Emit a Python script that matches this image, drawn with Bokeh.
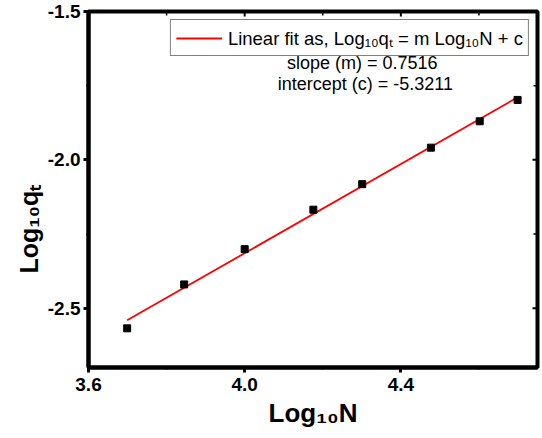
import math
from bokeh.plotting import figure
from bokeh.models import FixedTicker, Label, Legend, LegendItem, Range1d, PrintfTickFormatter, Title
from bokeh.embed import file_html
from bokeh.resources import INLINE

# data
log_n = [3.699, 3.845, 4.000, 4.176, 4.301, 4.477, 4.602, 4.699]
log_qt = [-2.568, -2.420, -2.301, -2.168, -2.082, -1.959, -1.870, -1.798]
slope = 0.7516
intercept = -5.3211
x_ticks = [3.6, 4.0, 4.4]
x_minor = [3.8, 4.2, 4.6]
y_ticks = [-2.5, -2.0, -1.5]
y_minor = [-2.25, -1.75]
x_lim = (3.6, 4.75)
y_lim = (-2.7, -1.5)
x_title = "Log₁₀N"
y_title = "Log₁₀qₜ"

FONT = "Liberation Sans"

p = figure(width=542, height=438, output_backend="svg", toolbar_location=None,
           x_range=Range1d(*x_lim), y_range=Range1d(*y_lim),
           min_border_left=88, min_border_right=5, min_border_top=11, min_border_bottom=71)
p.grid.visible = False
p.background_fill_color = "white"
p.border_fill_color = "white"
p.outline_line_color = "black"
p.outline_line_width = 4
p.outline_line_alpha = 1

xt = FixedTicker(ticks=x_ticks, minor_ticks=x_minor)
yt = FixedTicker(ticks=y_ticks, minor_ticks=y_minor)

for ax, tk in ((p.xaxis[0], xt), (p.yaxis[0], yt)):
    ax.ticker = tk
    ax.formatter = PrintfTickFormatter(format="%.1f")
    ax.axis_line_width = 4
    ax.axis_line_color = "black"
    ax.major_tick_line_width = 3
    ax.major_tick_line_color = "black"
    ax.major_tick_out = 5
    ax.major_tick_in = 0
    ax.minor_tick_line_width = 2
    ax.minor_tick_line_color = "black"
    ax.minor_tick_out = 2
    ax.minor_tick_in = 0
    ax.major_label_text_font = FONT
    ax.major_label_text_font_style = "bold"
    ax.major_label_text_font_size = "19px"
    ax.major_label_text_color = "black"
    ax.axis_label_text_font = FONT
    ax.axis_label_text_font_style = "bold"
    ax.axis_label_text_font_size = "26px"
    ax.axis_label_text_color = "black"

p.xaxis[0].axis_label = x_title
p.xaxis[0].major_label_standoff = 5
p.yaxis[0].major_label_standoff = 3
p.xaxis[0].axis_label_standoff = 4

# y-axis title, placed lower than the frame centre as in the reference
p.add_layout(Title(text=y_title, align="left", offset=94, text_font=FONT,
                   text_font_style="bold", text_font_size="25px", text_color="black",
                   standoff=4), "left")

# inward ticks on the right and top frame edges
p.ray(x=[x_lim[1]] * len(y_ticks), y=y_ticks, length=5, length_units="screen",
      angle=math.pi, line_color="black", line_width=2)
p.ray(x=[x_lim[1]] * len(y_minor), y=y_minor, length=4, length_units="screen",
      angle=math.pi, line_color="black", line_width=1.5)
p.ray(x=x_ticks, y=[y_lim[1]] * len(x_ticks), length=5, length_units="screen",
      angle=-math.pi / 2, line_color="black", line_width=2)
p.ray(x=x_minor, y=[y_lim[1]] * len(x_minor), length=4, length_units="screen",
      angle=-math.pi / 2, line_color="black", line_width=1.5)

fit_x = [min(log_n), max(log_n)]
fit_y = [slope * x + intercept for x in fit_x]
fit = p.line(fit_x, fit_y, line_color="red", line_width=1.8)
p.scatter(log_n, log_qt, marker="square", size=7, color="black")

legend = Legend(items=[LegendItem(label="Linear fit as, Log₁₀qₜ = m Log₁₀N + c", renderers=[fit])],
                location="top_right")
legend.margin = 8
legend.padding = 5
legend.spacing = 0
legend.glyph_width = 46
legend.label_standoff = 6
legend.label_text_font = FONT
legend.label_text_font_size = "18.5px"
legend.label_text_color = "black"
legend.border_line_color = "black"
legend.border_line_width = 1
legend.background_fill_alpha = 1
p.add_layout(legend)

p.add_layout(Label(x=4.301, y=-1.672, text=f"slope (m) = {slope}", text_align="center",
                   text_baseline="middle", text_font=FONT, text_font_size="18px",
                   text_color="black"))
p.add_layout(Label(x=4.309, y=-1.746, text=f"intercept (c) = {intercept}", text_align="center",
                   text_baseline="middle", text_font=FONT, text_font_size="18px",
                   text_color="black"))

open("out.html", "w").write(file_html(p, INLINE))
